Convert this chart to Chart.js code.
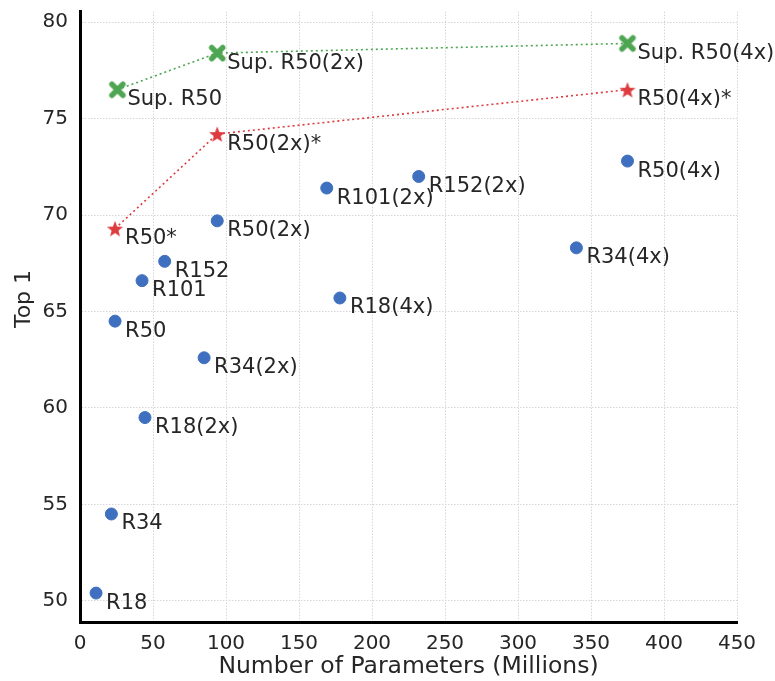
<!DOCTYPE html>
<html><head><meta charset="utf-8">
<script src="https://cdn.jsdelivr.net/npm/chart.js@4"></script>
<style>html,body{margin:0;padding:0;background:#fff}#w{width:775px;height:681px}</style>
</head><body><div id="w"><canvas id="c" width="775" height="681"></canvas></div>
<script>
// ---- data ----
const supLabels = ['Sup. R50', 'Sup. R50(2x)', 'Sup. R50(4x)'];
const supX = [25.6, 94, 375];
const supY = [76.5, 78.4, 78.9];

const starLabels = ['R50*', 'R50(2x)*', 'R50(4x)*'];
const starX = [24, 94, 375];
const starY = [69.3, 74.2, 76.5];

const baseLabels = ['R18', 'R34', 'R50', 'R101', 'R152', 'R18(2x)', 'R34(2x)', 'R50(2x)', 'R101(2x)', 'R152(2x)', 'R18(4x)', 'R34(4x)', 'R50(4x)'];
const baseX = [11, 21.5, 24, 42.5, 58, 44.5, 85, 94, 169, 232, 178, 340, 375];
const baseY = [50.4, 54.5, 64.5, 66.6, 67.6, 59.5, 62.6, 69.7, 71.4, 72.0, 65.7, 68.3, 72.8];

const xTicks = [0, 50, 100, 150, 200, 250, 300, 350, 400, 450];
const yTicks = [50, 55, 60, 65, 70, 75, 80];

const BLUE = '#3f6fbf', RED = '#dd3b3e', GREEN = '#4ea653';
const FONT = "'DejaVu Sans', sans-serif";
const TXT = '#262626';

function pts(xs, ys) { return xs.map((x, i) => ({ x: x, y: ys[i] })); }

function starCanvas(color) {
  const s = 20, c = document.createElement('canvas'); c.width = s; c.height = s;
  const g = c.getContext('2d'); g.fillStyle = color; g.beginPath();
  const R = 8.5, r = 3.6, cx = s / 2, cy = s / 2 + 0.8;
  for (let i = 0; i < 10; i++) {
    const a = -Math.PI / 2 + i * Math.PI / 5, rr = i % 2 ? r : R;
    g.lineTo(cx + rr * Math.cos(a), cy + rr * Math.sin(a));
  }
  g.closePath(); g.fill(); return c;
}
function xCanvas(color) {
  const s = 20, c = document.createElement('canvas'); c.width = s; c.height = s;
  const g = c.getContext('2d'); g.strokeStyle = color; g.lineWidth = 5.5; g.lineCap = 'round';
  g.beginPath(); g.moveTo(4.5, 4.5); g.lineTo(15.5, 15.5); g.moveTo(15.5, 4.5); g.lineTo(4.5, 15.5); g.stroke();
  return c;
}

const labelPlugin = {
  id: 'ptlabels',
  afterDatasetsDraw(chart) {
    const ctx = chart.ctx; ctx.save();
    ctx.font = '21px ' + FONT; ctx.fillStyle = TXT;
    ctx.textAlign = 'left'; ctx.textBaseline = 'middle';
    chart.data.datasets.forEach((ds, di) => {
      const meta = chart.getDatasetMeta(di);
      meta.data.forEach((el, i) => { ctx.fillText(ds.names[i], el.x + 10, el.y + 10); });
    });
    // y axis title
    ctx.translate(24, 299); ctx.rotate(-Math.PI / 2);
    ctx.font = '22px ' + FONT; ctx.textAlign = 'center';
    ctx.fillText('Top 1', 0, 0);
    ctx.restore();
  }
};

const gridOpts = { color: '#d6d6d6', lineWidth: 1, drawTicks: false };

new Chart(document.getElementById('c'), {
  type: 'scatter',
  data: {
    datasets: [
      { names: baseLabels, data: pts(baseX, baseY), backgroundColor: BLUE, borderColor: BLUE, pointRadius: 6, pointHoverRadius: 6, showLine: false },
      { names: starLabels, data: pts(starX, starY), borderColor: RED, borderWidth: 1.6, borderDash: [2, 3], showLine: true, pointStyle: starCanvas(RED), pointRadius: 10 },
      { names: supLabels, data: pts(supX, supY), borderColor: GREEN, borderWidth: 1.6, borderDash: [2, 3], showLine: true, pointStyle: xCanvas(GREEN), pointRadius: 10 }
    ]
  },
  options: {
    responsive: false, animation: false, devicePixelRatio: 1,
    layout: { padding: { left: 0, right: 38, top: 11, bottom: 0 } },
    plugins: { legend: { display: false }, tooltip: { enabled: false } },
    scales: {
      x: {
        type: 'linear', min: 0, max: 450,
        afterBuildTicks: s => { s.ticks = xTicks.map(v => ({ value: v })); },
        afterFit: s => { s.height = 59; s.paddingLeft = 0; s.paddingRight = 0; },
        grid: gridOpts,
        border: { display: true, color: '#000', width: 3, dash: [1.5, 1.5] },
        ticks: { font: { size: 20, family: FONT }, color: TXT, padding: 10, maxRotation: 0 },
        title: { display: true, text: 'Number of Parameters (Millions)', font: { size: 23.5, family: FONT }, color: TXT, padding: { top: 0, bottom: 0 } }
      },
      y: {
        type: 'linear', min: 48.9, max: 80.55,
        afterBuildTicks: s => { s.ticks = yTicks.map(v => ({ value: v })); },
        afterFit: s => { s.width = 80; s.paddingTop = 0; s.paddingBottom = 0; },
        grid: gridOpts,
        border: { display: true, color: '#000', width: 3, dash: [1.5, 1.5] },
        ticks: { font: { size: 20, family: FONT }, color: TXT, padding: 12 },
        title: { display: false }
      }
    }
  },
  plugins: [labelPlugin]
});
</script></body></html>
